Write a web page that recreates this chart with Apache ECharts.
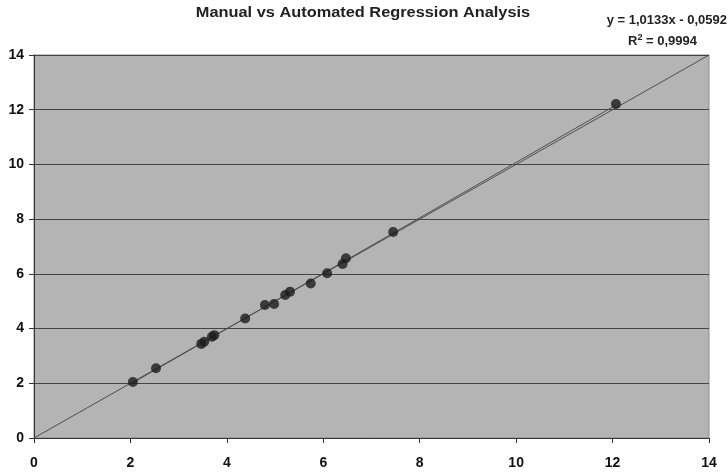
<!DOCTYPE html>
<html>
<head>
<meta charset="utf-8">
<style>
  html, body { margin: 0; padding: 0; background: #ffffff; }
  #chart { width: 728px; height: 473px; }
</style>
<script src="https://cdn.jsdelivr.net/npm/echarts@6/dist/echarts.min.js"></script>
</head>
<body>
<div id="chart"></div>
<script>
// Manual measurements (x) against automated measurements (y)
const manualValues = [2.05, 2.53, 3.47, 3.53, 3.69, 3.74, 4.38, 4.79, 4.98, 5.21, 5.31, 5.74, 6.08, 6.40, 6.47, 7.45, 12.07];
const automatedValues = [2.05, 2.55, 3.44, 3.52, 3.70, 3.76, 4.37, 4.86, 4.90, 5.23, 5.35, 5.65, 6.02, 6.36, 6.57, 7.53, 12.21];

// Linear trendline coefficients and fit quality
const slope = 1.0133;
const intercept = -0.0592;
const rSquared = '0,9994';
const equationText = 'y = 1,0133x - 0,0592';

// Axis ticks
const axisMin = 0;
const axisMax = 14;
const axisStep = 2;

const titleText = 'Manual vs Automated Regression Analysis';

const points = manualValues.map((x, i) => [x, automatedValues[i]]);
const xLo = Math.min(...manualValues);
const xHi = Math.max(...manualValues);
const trendLine = [[xLo, slope * xLo + intercept], [xHi, slope * xHi + intercept]];
const identityLine = [[axisMin, axisMin], [axisMax, axisMax]];

const font = '"Liberation Sans", Arial, sans-serif';

const chart = echarts.init(document.getElementById('chart'), null, { renderer: 'canvas' });

const axisCommon = {
  type: 'value',
  min: axisMin,
  max: axisMax,
  interval: axisStep,
  axisLine: { show: true, lineStyle: { color: '#333', width: 1 } },
  axisTick: { show: true, length: 5, lineStyle: { color: '#333' } },
  axisLabel: { color: '#111', fontFamily: font, fontWeight: 'bold', fontSize: 14 },
  splitLine: { show: false }
};

chart.setOption({
  animation: false,
  backgroundColor: '#ffffff',
  title: [
    {
      text: equationText,
      right: -4,
      top: 9,
      textStyle: { fontFamily: font, fontWeight: 'bold', fontSize: 13, color: '#222' }
    },
    {
      text: '{r|R}{s|2}{r| = ' + rSquared + '}',
      right: 26,
      top: 28,
      textStyle: {
        rich: {
          r: { fontFamily: font, fontWeight: 'bold', fontSize: 13, color: '#222', verticalAlign: 'bottom' },
          s: { fontFamily: font, fontWeight: 'bold', fontSize: 9, color: '#222', verticalAlign: 'top', padding: [0, 0, 6, 0] }
        }
      }
    }
  ],
  graphic: [
    {
      type: 'text',
      x: 363,
      y: 13,
      scaleX: 1.09,
      style: {
        text: titleText,
        font: 'bold 15px "Liberation Sans", Arial, sans-serif',
        fill: '#222',
        textAlign: 'center',
        textVerticalAlign: 'middle'
      }
    }
  ],
  grid: {
    left: 34,
    right: 19,
    top: 55,
    bottom: 35,
    show: true,
    backgroundColor: '#b4b4b4',
    borderColor: '#8a8a8a',
    borderWidth: 1
  },
  xAxis: Object.assign({}, axisCommon, {
    axisLabel: Object.assign({}, axisCommon.axisLabel, { margin: 18 })
  }),
  yAxis: Object.assign({}, axisCommon, {
    axisLabel: Object.assign({}, axisCommon.axisLabel, { margin: 10 }),
    splitLine: { show: true, lineStyle: { color: '#444', width: 1.2 } }
  }),
  series: [
    {
      name: 'y = x',
      type: 'line',
      data: identityLine,
      symbol: 'none',
      lineStyle: { color: '#4d4d4d', width: 1 },
      z: 2
    },
    {
      name: 'Trend',
      type: 'line',
      data: trendLine,
      symbol: 'none',
      lineStyle: { color: '#4d4d4d', width: 1 },
      z: 2
    },
    {
      name: 'Measurements',
      type: 'scatter',
      data: points,
      symbol: 'circle',
      symbolSize: 10,
      itemStyle: { color: '#1c1c1c' },
      z: 3
    }
  ]
});
</script>
</body>
</html>
